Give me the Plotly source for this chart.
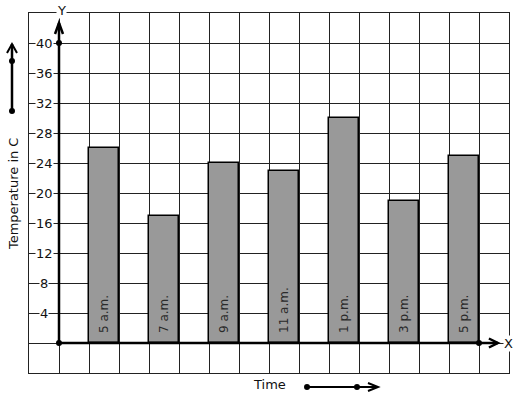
import plotly.graph_objects as go

categories = ["5 a.m.", "7 a.m.", "9 a.m.", "11 a.m.", "1 p.m.", "3 p.m.", "5 p.m."]
temperatures = [26, 17, 24, 23, 30, 19, 25]
y_tick_values = [4, 8, 12, 16, 20, 24, 28, 32, 36, 40]

positions = [1.5 + 2 * i for i in range(len(categories))]
FONT = "DejaVu Sans"
INK = "#111111"

fig = go.Figure()
fig.add_trace(go.Bar(
    x=positions, y=temperatures, width=1,
    marker=dict(color="#999999", line=dict(color="#000000", width=1.5)),
    hoverinfo="skip", showlegend=False,
))
# axis dots
fig.add_trace(go.Scatter(
    x=[0, 0, 14], y=[0, 40, 0], mode="markers",
    marker=dict(color="#000000", size=6), cliponaxis=False,
    hoverinfo="skip", showlegend=False,
))

shapes = []
# thick Y axis with chevron
shapes.append(dict(type="line", xref="x", yref="y", x0=0, y0=0, x1=0, y1=42.67,
                   line=dict(color="#000", width=2.5)))
shapes.append(dict(type="path", xref="x", yref="y",
                   path="M -0.133,41.2 L 0,42.67 L 0.133,41.2",
                   line=dict(color="#000", width=2.5)))
# thick X axis with chevron
shapes.append(dict(type="line", xref="x", yref="y", x0=0, y0=0, x1=14.63, y1=0,
                   line=dict(color="#000", width=2.5)))
shapes.append(dict(type="path", xref="x", yref="y",
                   path="M 14.33,0.6 L 14.63,0 L 14.33,-0.6",
                   line=dict(color="#000", width=2.5)))
# left vertical arrow (outside plot)
shapes.append(dict(type="line", xref="paper", yref="paper",
                   x0=-0.03542, y0=0.7278, x1=-0.03542, y1=0.9139,
                   line=dict(color="#000", width=2.5)))
shapes.append(dict(type="path", xref="paper", yref="paper",
                   path="M -0.04583,0.8889 L -0.03542,0.9139 L -0.025,0.8889",
                   line=dict(color="#000", width=2)))
for py in [0.7278, 0.8667]:
    shapes.append(dict(type="circle", xref="paper", yref="paper",
                       xsizemode="pixel", ysizemode="pixel",
                       xanchor=-0.03542, yanchor=py, x0=-3, x1=3, y0=-3, y1=3,
                       fillcolor="#000", line=dict(color="#000", width=0)))
# bottom horizontal arrow (outside plot)
shapes.append(dict(type="line", xref="paper", yref="paper",
                   x0=0.5792, y0=-0.03889, x1=0.7271, y1=-0.03889,
                   line=dict(color="#000", width=2)))
shapes.append(dict(type="path", xref="paper", yref="paper",
                   path="M 0.70625,-0.02778 L 0.7271,-0.03889 L 0.70625,-0.05",
                   line=dict(color="#000", width=2)))
for px in [0.5792, 0.6833]:
    shapes.append(dict(type="circle", xref="paper", yref="paper",
                       xsizemode="pixel", ysizemode="pixel",
                       xanchor=px, yanchor=-0.03889, x0=-3, x1=3, y0=-3, y1=3,
                       fillcolor="#000", line=dict(color="#000", width=0)))

annotations = []
# category labels inside the bars, reading upward from the baseline
for pos, cat in zip(positions, categories):
    annotations.append(dict(x=pos, y=0, xref="x", yref="y", text=cat,
                            textangle=-90, xanchor="center", yanchor="bottom",
                            yshift=9, showarrow=False, borderpad=0,
                            font=dict(family=FONT, size=12, color="#2a2a2a")))
for v in y_tick_values:
    annotations.append(dict(x=-0.5, y=v, xref="x", yref="y", text=str(v),
                            xanchor="center", yanchor="middle",
                            showarrow=False, bgcolor="white", borderpad=0,
                            font=dict(family=FONT, size=13, color=INK)))
annotations.append(dict(x=0.067, y=1, xref="x", yref="paper", text="Y", yshift=3,
                        xanchor="center", yanchor="middle",
                        showarrow=False, bgcolor="white", borderpad=0,
                        font=dict(family=FONT, size=13, color=INK)))
annotations.append(dict(x=14.97, y=0, xref="x", yref="y", text="X",
                        xanchor="center", yanchor="middle",
                        showarrow=False, bgcolor="white", borderpad=0,
                        font=dict(family=FONT, size=13, color=INK)))
annotations.append(dict(x=-0.0333, y=0.497, xref="paper", yref="paper",
                        text="Temperature in C", textangle=-90, showarrow=False,
                        xanchor="center", yanchor="middle",
                        font=dict(family=FONT, size=13, color=INK)))
annotations.append(dict(x=0.5, y=-0.0333, xref="paper", yref="paper",
                        text="Time", showarrow=False,
                        xanchor="center", yanchor="middle",
                        font=dict(family=FONT, size=13, color=INK)))

axis_common = dict(showgrid=True, gridcolor="#222222", gridwidth=1,
                   showticklabels=False, zeroline=False, ticks="",
                   showline=True, mirror=True, linecolor="#222222", linewidth=1,
                   fixedrange=True)
fig.update_layout(
    width=517, height=399,
    margin=dict(l=29, r=8, t=13, b=26, pad=0),
    paper_bgcolor="white", plot_bgcolor="white",
    xaxis=dict(range=[-1, 15], tick0=0, dtick=1, **axis_common),
    yaxis=dict(range=[-4, 44], tick0=0, dtick=4, **axis_common),
    shapes=shapes, annotations=annotations,
    bargap=0, showlegend=False,
)
fig.write_html("out.html", config={"displayModeBar": False},
               post_script="document.body.style.margin='0';document.body.style.padding='0';")
